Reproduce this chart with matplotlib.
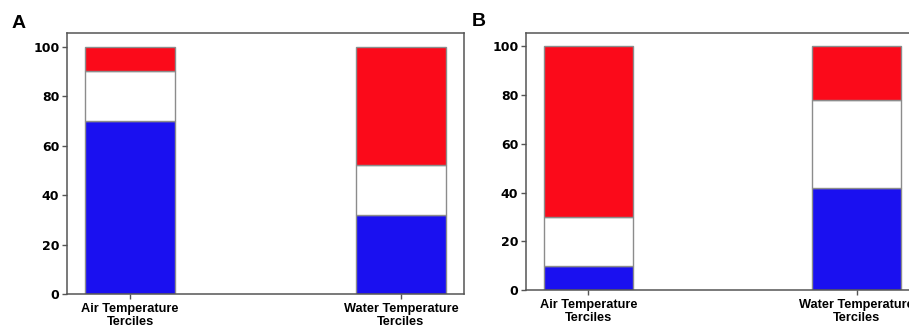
import matplotlib
matplotlib.use("Agg")
import matplotlib.pyplot as plt
import numpy as np

# categories and tercile shares (%)
categories = ["Air Temperature\nTerciles", "Water Temperature\nTerciles"]
a_low = [70, 32]
a_mid = [20, 20]
a_high = [10, 48]
b_low = [10, 42]
b_mid = [20, 36]
b_high = [70, 22]

blue = "#1a10f0"
red = "#fb0a1a"
edge = "#8c8c8c"

fig = plt.figure(figsize=(9.09, 3.29), dpi=100)
ax_a = fig.add_axes([0.0737, 0.1064, 0.4368, 0.7933])
ax_b = fig.add_axes([0.5787, 0.1185, 0.4323, 0.7812])


def stacked(ax, low, mid, high):
    x = np.arange(len(categories))
    low = np.array(low)
    mid = np.array(mid)
    high = np.array(high)
    w = 0.333
    ax.bar(x, low, w, color=blue, edgecolor=edge, linewidth=1)
    ax.bar(x, mid, w, bottom=low, color="white", edgecolor=edge, linewidth=1)
    ax.bar(x, high, w, bottom=low + mid, color=red, edgecolor=edge, linewidth=1)
    ax.set_xticks(x)
    ax.set_xticklabels(categories, fontsize=9.2, fontweight="bold", linespacing=1.15,
                       family="Liberation Sans")
    ax.set_yticks([0, 20, 40, 60, 80, 100])
    ax.set_yticklabels(["0", "20", "40", "60", "80", "100"], fontsize=9, fontweight="bold")
    ax.set_ylim(0, 105.5)
    ax.set_xlim(-0.233, 1.233)
    for s in ax.spines.values():
        s.set_color("#555555")
        s.set_linewidth(1.1)
    ax.tick_params(colors="#555555", labelcolor="black", length=3.5, width=1, pad=2)
    ax.tick_params(axis="x", pad=3)


stacked(ax_a, a_low, a_mid, a_high)
stacked(ax_b, b_low, b_mid, b_high)

fig.text(0.013, 0.915, "A", fontsize=14, fontweight="bold", family="Liberation Sans")
fig.text(0.519, 0.92, "B", fontsize=14, fontweight="bold", family="Liberation Sans")

fig.savefig("out.png", dpi=100)
